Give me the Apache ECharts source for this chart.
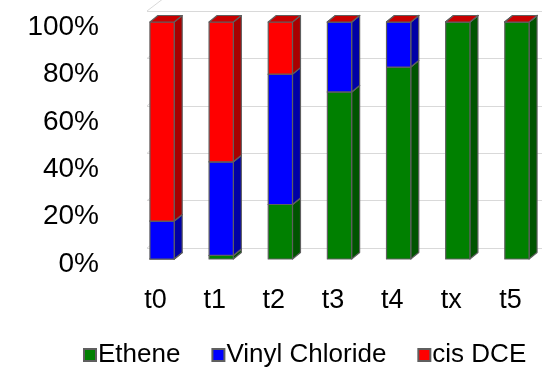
<!DOCTYPE html>
<html>
<head>
<meta charset="utf-8">
<script src="https://cdn.jsdelivr.net/npm/echarts@6/dist/echarts.min.js"></script>
<style>
  html, body { margin: 0; padding: 0; background: #fff; }
  #chart { width: 542px; height: 370px; }
</style>
</head>
<body>
<div id="chart"></div>
<script>
// Sampling times and the share (%) of each compound at each time
const categories = ['t0', 't1', 't2', 't3', 't4', 'tx', 't5'];
const ethene = [0, 1.5, 23, 70.5, 81, 100, 100];
const vinylChloride = [16, 39.5, 55, 29.5, 19, 0, 0];
const cisDCE = [84, 59, 22, 0, 0, 0, 0];
const yTicks = [0, 20, 40, 60, 80, 100];

const seriesDefs = [
  { name: 'Ethene', values: ethene, front: '#008000', side: '#005400', top: '#006a00' },
  { name: 'Vinyl Chloride', values: vinylChloride, front: '#0000ff', side: '#0000a6', top: '#0000cc' },
  { name: 'cis DCE', values: cisDCE, front: '#ff0000', side: '#a80000', top: '#c80000' }
];

// Oblique projection: depth of the plot box and where the bars sit inside it
const WALL_DEPTH = [21, -16];
const BAR_FRONT = [6.5, -5];
const BAR_DEPTH = [8, -6.5];
const BAR_RATIO = 0.41;
const EDGE = '#5f5f5f';
const FONT = "'Liberation Sans', Arial, sans-serif";

// running totals so each series stacks on the previous ones
const bases = seriesDefs.map((s, si) =>
  categories.map((c, ci) => {
    let b = 0;
    for (let k = 0; k < si; k++) b += seriesDefs[k].values[ci];
    return b;
  })
);

function makeBarRenderer(def) {
  return function (params, api) {
    const cat = api.value(0);
    const base = api.value(1);
    const top = base + api.value(2);
    const pb = api.coord([cat, base]);
    const pt = api.coord([cat, top]);
    const w = api.size([1, 0])[0] * BAR_RATIO;
    const x0 = pb[0] + BAR_FRONT[0] - w / 2;
    const x1 = x0 + w;
    const yb = pb[1] + BAR_FRONT[1];
    const yt = pt[1] + BAR_FRONT[1];
    const dx = BAR_DEPTH[0], dy = BAR_DEPTH[1];
    const stroke = { stroke: EDGE, lineWidth: 1.2, lineJoin: 'round' };
    return {
      type: 'group',
      children: [
        {
          type: 'polygon',
          shape: { points: [[x1, yb], [x1 + dx, yb + dy], [x1 + dx, yt + dy], [x1, yt]] },
          style: Object.assign({ fill: def.side }, stroke)
        },
        {
          type: 'rect',
          shape: { x: x0, y: yt, width: w, height: yb - yt },
          style: Object.assign({ fill: def.front }, stroke)
        },
        {
          type: 'polygon',
          shape: { points: [[x0, yt], [x1, yt], [x1 + dx, yt + dy], [x0 + dx, yt + dy]] },
          style: Object.assign({ fill: def.top }, stroke)
        }
      ]
    };
  };
}

// side-wall grid lines running from the front edge back to the rear wall
function renderSideWall(params, api) {
  const p = api.coord([0, api.value(1)]);
  const x = params.coordSys.x;
  return {
    type: 'line',
    shape: { x1: x, y1: p[1], x2: x + WALL_DEPTH[0], y2: p[1] + WALL_DEPTH[1] },
    style: { stroke: '#d9d9d9', lineWidth: 1 }
  };
}

const FRONT = { left: 126, top: 27, width: 414, height: 237 };
const BACK = {
  left: FRONT.left + WALL_DEPTH[0],
  top: FRONT.top + WALL_DEPTH[1],
  width: FRONT.width,
  height: FRONT.height
};

const chart = echarts.init(document.getElementById('chart'), null, { renderer: 'canvas' });

const series = [
  {
    type: 'custom',
    xAxisIndex: 1,
    yAxisIndex: 1,
    silent: true,
    clip: false,
    renderItem: renderSideWall,
    data: yTicks.map(v => [0, v]),
    encode: { x: 0, y: 1 },
    z: 1
  }
].concat(seriesDefs.map((def, si) => ({
  name: def.name,
  type: 'custom',
  xAxisIndex: 0,
  yAxisIndex: 0,
  clip: false,
  renderItem: makeBarRenderer(def),
  itemStyle: { color: def.front, borderColor: EDGE, borderWidth: 1 },
  data: categories.map((c, ci) => [ci, bases[si][ci], def.values[ci]]),
  encode: { x: 0, y: 2 },
  z: 2
})));

chart.setOption({
  animation: false,
  backgroundColor: '#ffffff',
  grid: [
    Object.assign({}, FRONT),
    Object.assign({}, BACK)
  ],
  xAxis: [
    {
      type: 'category',
      gridIndex: 0,
      data: categories,
      axisLine: { show: false },
      axisTick: { show: false },
      axisLabel: { color: '#000', fontSize: 27, fontFamily: FONT, margin: 23 }
    },
    {
      type: 'category',
      gridIndex: 1,
      data: categories,
      show: false
    }
  ],
  yAxis: [
    {
      type: 'value',
      gridIndex: 0,
      min: 0,
      max: 100,
      interval: 20,
      axisLine: { show: false },
      axisTick: { show: false },
      splitLine: { show: false },
      axisLabel: { color: '#000', fontSize: 28, fontFamily: FONT, margin: 27, formatter: '{value}%' }
    },
    {
      type: 'value',
      gridIndex: 1,
      min: 0,
      max: 100,
      interval: 20,
      axisLine: { show: false },
      axisTick: { show: false },
      axisLabel: { show: false },
      splitLine: { show: true, lineStyle: { color: '#d9d9d9', width: 1 } }
    }
  ],
  legend: {
    data: seriesDefs.map(d => d.name),
    left: 83,
    top: 342,
    padding: 0,
    icon: 'rect',
    itemWidth: 12,
    itemHeight: 12,
    itemGap: 31,
    textStyle: { color: '#000', fontSize: 26, fontFamily: FONT, padding: [0, 0, 0, -3] }
  },
  series: series
});
</script>
</body>
</html>
